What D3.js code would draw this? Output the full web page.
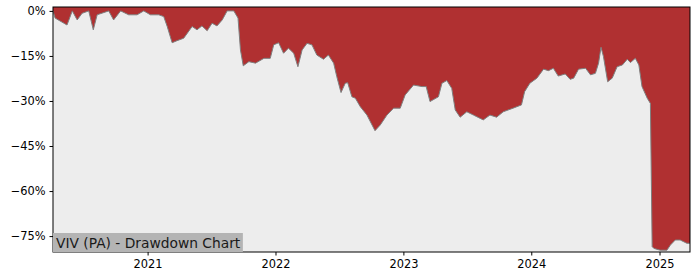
<!DOCTYPE html>
<html lang="en">
<head>
<meta charset="UTF-8">
<title>VIV (PA) - Drawdown Chart</title>
<script src="https://d3js.org/d3.v7.min.js"></script>
<style>
    body { margin: 0; background: #fff; }
    text { font-family: "DejaVu Sans", sans-serif; }
</style>
</head>
<body>
<div id="chart"></div>
<script>
// drawdown readings, percent below running peak
const dates = [
    "2020-04-06", "2020-04-12", "2020-05-16", "2020-05-31", "2020-06-14", "2020-06-28",
    "2020-07-17", "2020-07-30", "2020-08-10", "2020-09-12", "2020-09-26", "2020-10-16",
    "2020-11-08", "2020-12-02", "2020-12-21", "2021-01-09", "2021-02-02", "2021-02-16",
    "2021-02-26", "2021-03-12", "2021-03-26", "2021-04-14", "2021-05-08", "2021-05-22",
    "2021-06-05", "2021-06-20", "2021-07-04", "2021-07-18", "2021-08-02", "2021-08-16",
    "2021-09-04", "2021-09-16", "2021-09-23", "2021-10-01", "2021-10-17", "2021-11-05",
    "2021-11-29", "2021-12-17", "2021-12-27", "2022-01-10", "2022-01-24", "2022-02-07",
    "2022-02-22", "2022-03-06", "2022-03-18", "2022-04-01", "2022-04-15", "2022-04-29",
    "2022-05-18", "2022-06-01", "2022-06-16", "2022-06-25", "2022-07-07", "2022-07-19",
    "2022-07-26", "2022-08-07", "2022-08-17", "2022-08-31", "2022-09-19", "2022-10-12",
    "2022-10-27", "2022-11-15", "2022-12-04", "2022-12-23", "2023-01-06", "2023-01-30",
    "2023-02-23", "2023-03-07", "2023-03-18", "2023-04-11", "2023-04-21", "2023-05-05",
    "2023-05-19", "2023-05-29", "2023-06-12", "2023-07-01", "2023-07-20", "2023-08-17",
    "2023-09-05", "2023-09-24", "2023-10-13", "2023-11-10", "2023-12-04", "2023-12-13",
    "2023-12-28", "2024-01-17", "2024-02-05", "2024-02-19", "2024-03-04", "2024-03-18",
    "2024-04-07", "2024-04-21", "2024-05-01", "2024-05-15", "2024-06-04", "2024-06-18",
    "2024-07-02", "2024-07-11", "2024-07-18", "2024-07-25", "2024-08-06", "2024-08-19",
    "2024-09-02", "2024-09-17", "2024-10-01", "2024-10-10", "2024-10-24", "2024-11-03",
    "2024-11-12", "2024-11-27", "2024-12-06", "2024-12-11", "2024-12-16", "2025-01-03",
    "2025-01-22", "2025-02-01", "2025-02-15", "2025-03-01", "2025-03-20", "2025-03-29"
];
const drawdown = [
    0, -2.4, -4.7, 0, -3, -0.8,
    0, -6.3, -1.3, 0, -3, 0,
    -1.3, -1.3, 0, -1.3, -1.3, -1.9,
    -5.2, -10.6, -9.9, -9.1, -5.2, -6.3,
    -5, -6.6, -4.1, -5, -3, 0,
    0, -2.4, -13, -18.3, -16.9, -17.4,
    -15.8, -15.8, -11.3, -10.6, -14.1, -12.4,
    -14.1, -18.6, -13, -10.8, -11.3, -14.7,
    -16.1, -14.7, -17.4, -21.9, -27.2, -24.1,
    -23.9, -28.6, -29.1, -31.9, -34.7, -39.9,
    -38, -34.7, -32.4, -32.4, -28, -24.7,
    -25.2, -25.2, -30.2, -28.6, -24.1, -23.2,
    -25.8, -33, -35.4, -33.6, -34.7, -36.3,
    -34.7, -35.4, -33.6, -32.4, -31.3, -26.9,
    -24.1, -22.4, -19.4, -19.9, -19.1, -21.7,
    -21, -22.8, -22.4, -19.4, -19.1, -21.3,
    -20.8, -17.4, -12.1, -15.2, -23.6, -22.4,
    -18.6, -18, -16.1, -17.2, -15.8, -18,
    -25.2, -29.1, -30.8, -78.5, -79.1, -79.7,
    -79.7, -78, -76.3, -76.3, -77.4, -77.4
];
const yTicks = [0, -15, -30, -45, -60, -75];
const xTicks = ["2021-01-01", "2022-01-01", "2023-01-01", "2024-01-01", "2025-01-01"];
const yDomain = [-80.3, 1.3];
const title = "VIV (PA) - Drawdown Chart";

const width = 700, height = 280;
const margin = { top: 7, right: 10, bottom: 28, left: 53 };

const parse = d3.timeParse("%Y-%m-%d");
const data = dates.map((d, i) => ({ date: parse(d), value: drawdown[i] }));

const svg = d3.select("#chart").append("svg")
    .attr("width", width)
    .attr("height", height);

const x = d3.scaleTime()
    .domain(d3.extent(data, d => d.date))
    .range([margin.left, width - margin.right]);

const y = d3.scaleLinear()
    .domain(yDomain)
    .range([height - margin.bottom, margin.top]);

// plot background
svg.append("rect")
    .attr("x", margin.left)
    .attr("y", margin.top)
    .attr("width", width - margin.left - margin.right)
    .attr("height", height - margin.top - margin.bottom)
    .attr("fill", "#ededed");

// red area from curve up to the top
const area = d3.area()
    .x(d => x(d.date))
    .y0(margin.top)
    .y1(d => y(d.value));

svg.append("path")
    .datum(data)
    .attr("fill", "#b03031")
    .attr("d", area);

svg.append("path")
    .datum(data)
    .attr("fill", "none")
    .attr("stroke", "#7f7f7f")
    .attr("stroke-width", 1)
    .attr("d", d3.line().x(d => x(d.date)).y(d => y(d.value)));

// axes
const fmt = v => (v < 0 ? "\u2212" + Math.abs(v) : v) + "%";

svg.append("g")
    .attr("transform", `translate(${margin.left},0)`)
    .call(d3.axisLeft(y).tickValues(yTicks).tickFormat(fmt).tickSize(3.5).tickPadding(4))
    .call(g => g.select(".domain").remove())
    .call(g => g.selectAll("text").attr("font-size", 11.4).attr("fill", "#000").attr("font-family", "DejaVu Sans"));

svg.append("g")
    .attr("transform", `translate(0,${height - margin.bottom})`)
    .call(d3.axisBottom(x).tickValues(xTicks.map(parse)).tickFormat(d3.timeFormat("%Y")).tickSize(3.5).tickPadding(4))
    .call(g => g.select(".domain").remove())
    .call(g => g.selectAll("text").attr("font-size", 11.4).attr("fill", "#000").attr("font-family", "DejaVu Sans"));

// frame
svg.append("rect")
    .attr("x", margin.left)
    .attr("y", margin.top)
    .attr("width", width - margin.left - margin.right)
    .attr("height", height - margin.top - margin.bottom)
    .attr("fill", "none")
    .attr("stroke", "#000")
    .attr("stroke-width", 1);

// title label in the corner
const label = svg.append("g");
const labelText = label.append("text")
    .attr("x", margin.left + 3)
    .attr("y", height - margin.bottom - 4.5)
    .attr("font-size", 13.8)
    .attr("fill", "#1a1a1a")
    .text(title);
const bb = labelText.node().getBBox();
label.insert("rect", "text")
    .attr("x", margin.left)
    .attr("y", height - margin.bottom - 19)
    .attr("width", bb.width + 5)
    .attr("height", 19)
    .attr("fill", "#b4b4b4");
</script>
</body>
</html>
